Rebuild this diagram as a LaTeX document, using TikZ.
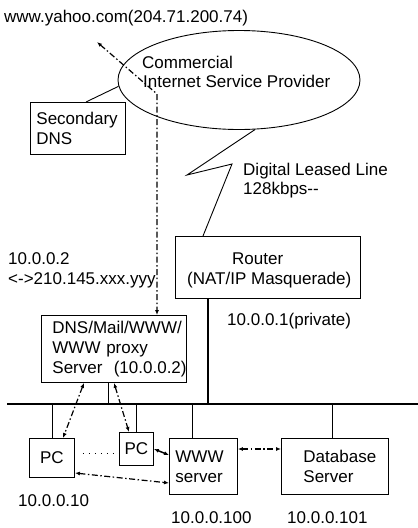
\documentclass[tikz,border=0pt]{standalone}
\usepackage{fontspec}
\setmainfont{Liberation Sans}
\usetikzlibrary{arrows.meta,shapes.geometric}
\newcommand\dfont{\fontsize{17pt}{20pt}\selectfont}
\begin{document}
\begin{tikzpicture}[x=1pt,y=-1pt,
  >={Latex[length=5pt,width=4pt]},
  every node/.style={font=\dfont},
  lbl/.style={anchor=base west,inner sep=0pt},
  box/.style={draw,line width=0.9pt,anchor=north west,inner sep=0pt},
  boxl/.style={box,align=left},
  thinline/.style={line width=0.9pt},
  busline/.style={line width=2pt},
  dashdot/.style={line width=1.2pt,dash pattern=on 6pt off 2.5pt on 1.5pt off 2.5pt},
]
\useasboundingbox (0,0) rectangle (418,528);

% ISP cloud
\node[draw,ellipse,line width=0.9pt,minimum width=242pt,minimum height=99pt,inner sep=0pt] (isp) at (239,80) {};
\node[lbl] (t1) at (142,68) {Commercial};
\node[lbl] (t2) at (143,87) {Internet Service Provider};
\node[lbl] (yahoo) at (4,22) {www.yahoo.com(204.71.200.74)};

% Secondary DNS
\node[boxl,minimum width=95pt,minimum height=52pt,text width=95pt,inner xsep=0pt] (sdns) at (30,102) {\hspace*{6pt}\mbox{Secondary}\\\hspace*{6pt}DNS};
\draw[thinline] ([xshift=56pt]sdns.north west) -- (isp.183);

% Router
\node[box,minimum width=185pt,minimum height=62pt] (router) at (175,236) {};
\node[lbl] (r1) at (232,264) {Router};
\node[lbl] (r2) at (187,284) {(NAT/IP Masquerade)};
\node[lbl] (r3) at (227,325) {10.0.0.1(private)};

% Leased line (lightning)
\coordinate (z1) at (187,175);
\coordinate (z2) at (232,164);
\draw[thinline] (isp.288) -- (z1) -- (z2) -- ([xshift=28pt]router.north west);
\node[lbl] (d1) at (243,175) {Digital Leased Line};
\node[lbl] (d2) at (243,194) {128kbps-{}-};

% NAT label
\node[lbl] (n1) at (8,264) {10.0.0.2};
\node[lbl] (n2) at (8,284) {<->210.145.xxx.yyy};

% DNS server
\node[boxl,minimum width=145pt,minimum height=67pt,text width=145pt,inner xsep=0pt] (dns) at (41,315) {\hspace*{11pt}\mbox{DNS/Mail/WWW/}\\\hspace*{11pt}\mbox{WWW proxy}\\\hspace*{11pt}\mbox{Server\ \ (10.0.0.2)}};

% dash-dot from yahoo to DNS server
\coordinate (yh) at (97,42);
\coordinate (bend) at (157,94);
\draw[dashdot,<->] (yh) -- (bend) -- (dns.north -| bend);

% bus
\coordinate (busL) at (7,404);
\coordinate (busR) at (418,404);
\draw[busline] (busL) -- (busR);
\draw[busline] ([xshift=33pt]router.south west) -- ([xshift=33pt]router.south west |- busL);
\draw[thinline] ([xshift=67pt]dns.south west) -- ([xshift=67pt]dns.south west |- busL);

% hosts
\node[box,minimum width=45pt,minimum height=39pt] (pc1) at (29,438) {PC};
\node[box,minimum width=34pt,minimum height=33pt] (pc2) at (119,432) {PC};
\node[boxl,minimum width=68pt,minimum height=56pt,text width=68pt,inner xsep=0pt] (www) at (169,438) {\hspace*{6pt}\mbox{WWW}\\\hspace*{6pt}\mbox{server}};
\node[boxl,minimum width=107pt,minimum height=56pt,text width=107pt,inner xsep=0pt] (db) at (281,438) {\hspace*{22pt}\mbox{Database}\\\hspace*{22pt}\mbox{Server}};

\draw[thinline] (pc1.north) -- (pc1.north |- busL);
\draw[thinline] (pc2.north) -- (pc2.north |- busL);
\draw[thinline] ([xshift=23pt]www.north west) -- ([xshift=23pt]www.north west |- busL);
\draw[thinline] ([xshift=51pt]db.north west) -- ([xshift=51pt]db.north west |- busL);

\node[lbl] (a1) at (18,506) {10.0.0.10};
\node[lbl] (a2) at (171,523) {10.0.0.100};
\node[lbl] (a3) at (287,523) {10.0.0.101};

% traffic arrows
\draw[dashdot,<->] ([xshift=43pt]dns.south west) -- ([xshift=34pt]pc1.north west);
\draw[dashdot,<->] ([xshift=73pt]dns.south west) -- ([xshift=10pt]pc2.north west);
\draw[line width=1pt,dash pattern=on 1pt off 5pt] ([xshift=8pt,yshift=-15pt]pc1.north east) -- ([yshift=-21pt]pc2.north west);
\draw[line width=1.5pt,<->] ([yshift=-17pt]pc2.north east) -- ([yshift=-17pt]www.north west);
\draw[dashdot,<->] ([yshift=-35pt]pc1.north east) -- ([yshift=-45pt]www.north west);
\draw[dashdot,<->] ([yshift=-11pt]www.north east) -- ([yshift=-11pt]db.north west);
\end{tikzpicture}
\end{document}
